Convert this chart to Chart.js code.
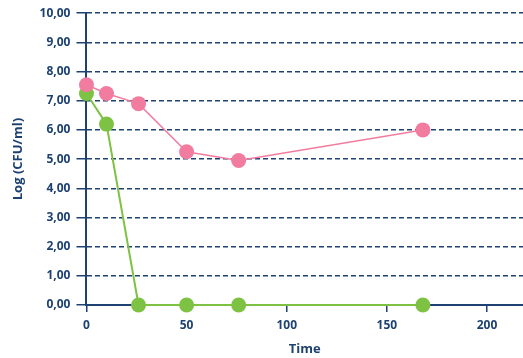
<!DOCTYPE html>
<html>
<head>
<meta charset="utf-8">
<script src="https://cdn.jsdelivr.net/npm/chart.js@4/dist/chart.umd.min.js"></script>
<style>
  html, body { margin: 0; padding: 0; background: #ffffff; }
  #wrap { width: 523px; height: 358px; }
</style>
</head>
<body>
<div id="wrap"><canvas id="c" width="523" height="358"></canvas></div>
<script>
// Sampling times and log counts for the two series
const times = [0, 10, 26, 50, 76, 168];
const pinkSeries = [7.55, 7.25, 6.9, 5.25, 4.95, 6.0];
const greenSeries = [7.25, 6.2, 0, 0, 0, 0];
const xTicks = [0, 50, 100, 150, 200];
const yTicks = [0, 1, 2, 3, 4, 5, 6, 7, 8, 9, 10];

const navy = '#1d4271';
const pink = '#f27c9f';
const green = '#7dc242';

const toPoints = (vals) => vals.map((v, i) => ({ x: times[i], y: v }));

new Chart(document.getElementById('c'), {
  type: 'line',
  data: {
    datasets: [
      {
        label: 'A',
        data: toPoints(pinkSeries),
        borderColor: pink,
        backgroundColor: pink,
        borderWidth: 1.5,
        pointRadius: 7.5,
        pointBorderWidth: 0,
        pointBackgroundColor: pink,
        tension: 0,
        clip: false
      },
      {
        label: 'B',
        data: toPoints(greenSeries),
        borderColor: green,
        backgroundColor: green,
        borderWidth: 2,
        pointRadius: 7.5,
        pointBorderWidth: 0,
        pointBackgroundColor: green,
        tension: 0,
        clip: false
      }
    ]
  },
  options: {
    responsive: false,
    animation: false,
    layout: { autoPadding: false, padding: { top: 12, right: 0, left: 10, bottom: 1 } },
    plugins: { legend: { display: false }, tooltip: { enabled: false } },
    scales: {
      x: {
        type: 'linear',
        min: 0,
        max: 218,
        afterBuildTicks: (s) => { s.ticks = xTicks.map(v => ({ value: v })); },
        grid: { drawOnChartArea: false, drawTicks: true, tickLength: 7, color: navy, lineWidth: 1.5 },
        border: { display: true, color: navy, width: 2 },
        ticks: {
          color: navy,
          padding: 6,
          font: { family: 'Open Sans', weight: 'bold', size: 12 }
        },
        title: {
          display: true,
          text: 'Time',
          color: navy,
          padding: { top: 3, bottom: 0 },
          font: { family: 'Open Sans', weight: 'bold', size: 13 }
        }
      },
      y: {
        type: 'linear',
        min: 0,
        max: 10,
        afterBuildTicks: (s) => { s.ticks = yTicks.map(v => ({ value: v })); },
        grid: { drawOnChartArea: true, drawTicks: true, tickLength: 10, color: navy, lineWidth: 1.5 },
        border: { display: true, color: navy, width: 2, dash: [5, 3] },
        ticks: {
          color: navy,
          padding: 6,
          font: { family: 'Open Sans', weight: 'bold', size: 12 },
          callback: (v) => Number(v).toFixed(2).replace('.', ',')
        },
        title: {
          display: true,
          text: 'Log (CFU/ml)',
          color: navy,
          padding: { top: 0, bottom: 8 },
          font: { family: 'Open Sans', weight: 'bold', size: 13 }
        }
      }
    }
  }
});
</script>
</body>
</html>
